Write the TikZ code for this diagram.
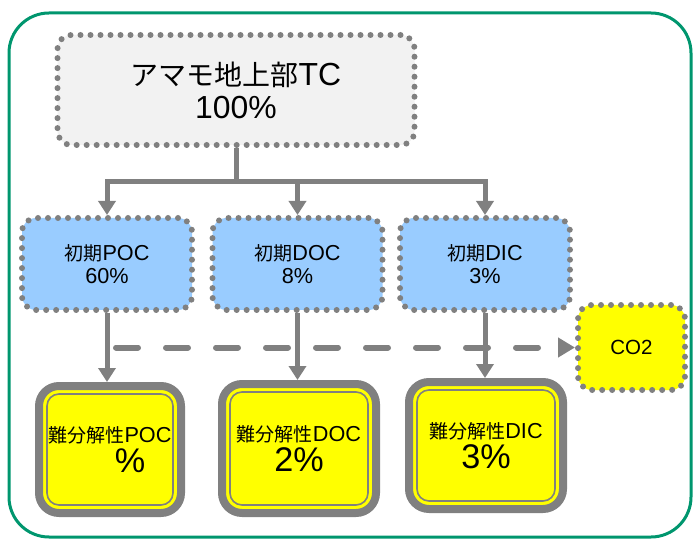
\documentclass[tikz,border=0pt]{standalone}
\usepackage{fontspec}
\setmainfont{Liberation Sans}[Scale=1.14]
\newfontfamily\cjk{Noto Sans CJK JP}
\usetikzlibrary{arrows.meta}
\definecolor{frameg}{RGB}{0,150,110}
\definecolor{dotgray}{RGB}{128,128,128}
\definecolor{lblue}{RGB}{153,204,255}
\definecolor{lgray}{RGB}{242,242,242}
\definecolor{yel}{RGB}{255,255,0}
\tikzset{
  dotbox/.style={draw=dotgray, line width=6pt, dash pattern=on 0pt off 10pt, line cap=round,
    rounded corners=14pt, align=center, inner sep=0pt, text=black},
  bluebox/.style={dotbox, fill=lblue, minimum width=170pt, minimum height=92pt,
    font=\fontsize{19}{23}\selectfont},
  ybox/.style={fill=yel, draw=dotgray, line width=8pt, rounded corners=20pt, align=center,
    inner sep=0pt, font=\fontsize{19}{30}\selectfont},
  yinner/.style={draw=dotgray, line width=1.6pt, rounded corners=12pt},
  conn/.style={draw=dotgray, line width=5pt},
  arr/.style={conn, -{Triangle[length=14pt,width=17pt]}},
  dline/.style={draw=dotgray, line width=6pt, dash pattern=on 22pt off 28pt, line cap=round,
    -{Triangle[length=17pt,width=19pt]}}
}
\begin{document}
\begin{tikzpicture}[x=1pt,y=-1pt]
\useasboundingbox (0,0) rectangle (694,540);
\draw[frameg, line width=3pt, rounded corners=40pt] (9,13) rectangle (691,537);

% nodes
\node[dotbox, fill=lgray, minimum width=357pt, minimum height=110pt,
      font=\fontsize{28}{33}\selectfont] (top) at (236,90) {{\cjk アマモ地上部}TC\\100\%};
\node[bluebox] (poc) at (107,264) {{\cjk 初期}POC\\60\%};
\node[bluebox] (doc) at (297.5,264) {{\cjk 初期}DOC\\8\%};
\node[bluebox] (dic) at (485,264) {{\cjk 初期}DIC\\3\%};
\node[dotbox, fill=yel, minimum width=107pt, minimum height=85pt,
      font=\fontsize{18}{22}\selectfont] (co2) at (631.5,347.5) {CO2};

\node[ybox, minimum width=142pt, minimum height=127pt] (rpoc) at (110,449.5)
  {{\cjk 難分解性}POC\\{\fontsize{30}{30}\selectfont\hspace*{40pt}\%}};
\node[ybox, minimum width=154pt, minimum height=129pt] (rdoc) at (299,448.5)
  {{\cjk 難分解性}DOC\\{\fontsize{30}{30}\selectfont 2\%}};
\node[ybox, minimum width=154pt, minimum height=127pt] (rdic) at (486,445.5)
  {{\cjk 難分解性}DIC\\{\fontsize{30}{30}\selectfont 3\%}};
\foreach \n in {rpoc,rdoc,rdic}{
  \draw[yinner] ([shift={(12,12)}]\n.north west) rectangle ([shift={(-12,-12)}]\n.south east);
}

% connectors
\coordinate (bus) at (236,182);
\draw[conn] (top.south) -- (bus);
\draw[arr] (bus) -| (poc.north);
\draw[arr] (bus) -| (doc.north);
\draw[arr] (bus) -| (dic.north);

\coordinate (dstart) at (116,347.5);
\draw[dline] (dstart) -- (co2.west);

\draw[arr] (poc.south) -- (poc.south |- rpoc.north);
\draw[arr] (doc.south) -- (doc.south |- rdoc.north);
\draw[arr] (dic.south) -- (dic.south |- rdic.north);
\end{tikzpicture}
\end{document}
